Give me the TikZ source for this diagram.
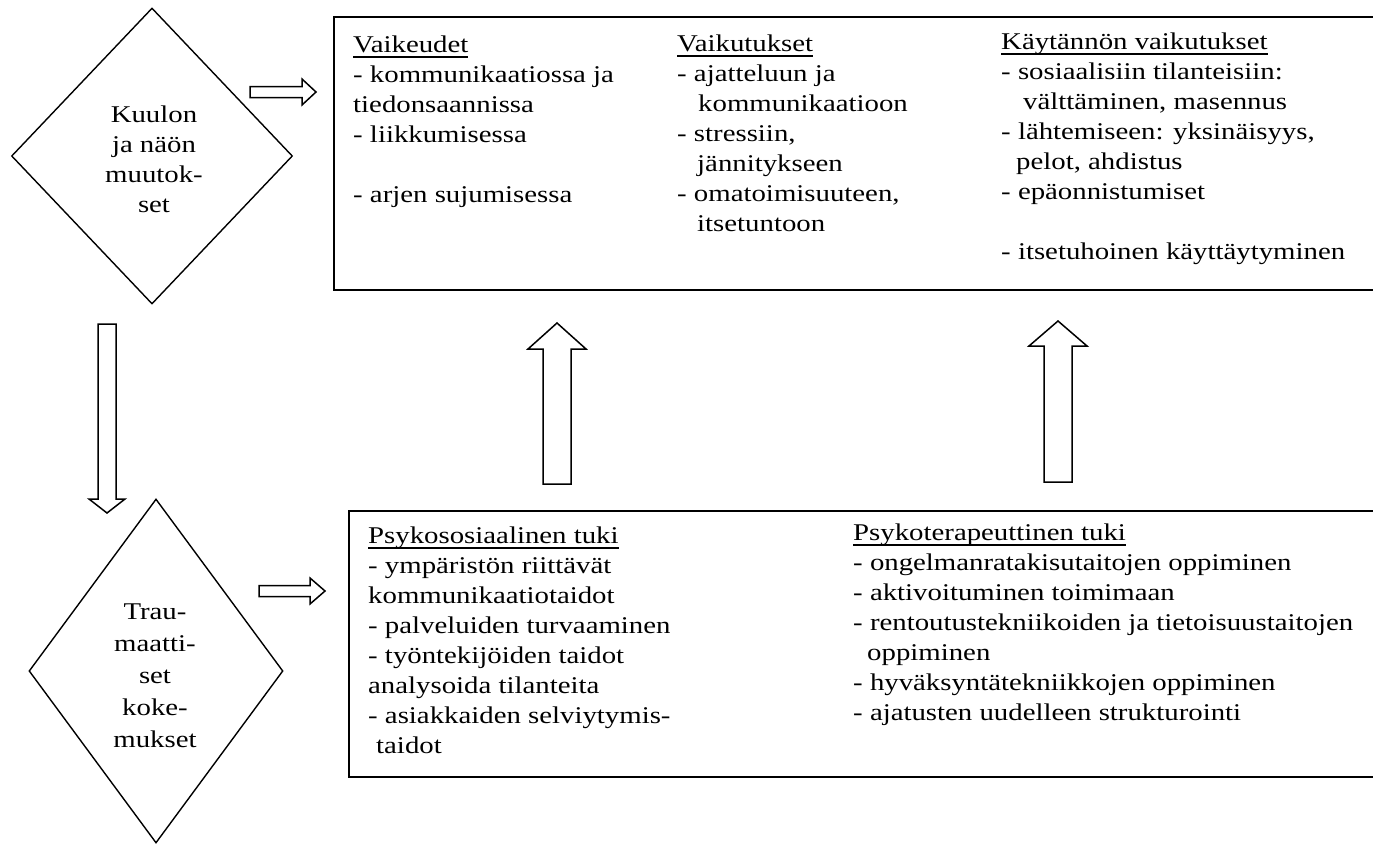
\documentclass[tikz,border=0pt]{standalone}
\usepackage{fontspec}
\newfontfamily\scanserif[FakeStretch=1.2]{Liberation Serif}
\usetikzlibrary{shapes.geometric}
% column heading with a close underline that crosses the descenders
\newcommand\colhead[1]{\setbox0\hbox{#1}\rlap{\rule[-5.5pt]{\wd0}{1.6pt}}\box0}
\begin{document}
\begin{tikzpicture}[x=1pt,y=-1pt,
  every node/.style={inner sep=0pt},
  txt/.style={anchor=north west, align=left, font=\scanserif\fontsize{24}{30}\selectfont},
  dtxt/.style={align=center, font=\scanserif\fontsize{24}{#1}\selectfont},
  choice/.style={diamond, draw, line width=1.4pt},
  frame/.style={draw, line width=1.8pt, anchor=north west},
  blockarrow/.style={draw, line width=1.5pt, line join=miter}]
\useasboundingbox (0,0) rectangle (1373,846);
\clip (0,0) rectangle (1373,846);

% decision diamonds
\node[choice, minimum width=281pt, minimum height=296pt] (hearing) at (152,156) {};
\node[dtxt=30] (hearingtxt) at (154,159) {Kuulon\\ja näön\\muutok-\\set};
\node[choice, minimum width=254pt, minimum height=344pt] (trauma) at (156,671) {};
\node[dtxt=32] (traumatxt) at (155,676) {Trau-\\maatti-\\set\\koke-\\mukset};

% content frames (open to the right)
\node[frame, minimum width=1100pt, minimum height=273pt] (effects) at (333,16) {};
\node[frame, minimum width=1100pt, minimum height=266pt] (support) at (348,510) {};

% top frame columns
\node[txt] (difficulties) at (353,31) {\strut\colhead{Vaikeudet}\\- kommunikaatiossa ja\\tiedonsaannissa\\- liikkumisessa\\[30pt]- arjen sujumisessa};
\node[txt] (impacts) at (677,30) {\strut\colhead{Vaikutukset}\\- ajatteluun ja\\\hspace*{21pt}kommunikaatioon\\- stressiin,\\\hspace*{20pt}jännitykseen\\- omatoimisuuteen,\\\hspace*{20pt}itsetuntoon};
\node[txt] (practical) at (1001,28) {\strut\colhead{Käytännön vaikutukset}\\- sosiaalisiin tilanteisiin:\\\hspace*{22pt}välttäminen, masennus\\- lähtemiseen: yksinäisyys,\\\hspace*{15pt}pelot, ahdistus\\- epäonnistumiset\\[30pt]- itsetuhoinen käyttäytyminen};

% bottom frame columns
\node[txt] (psychosocial) at (368,522) {\strut\colhead{Psykososiaalinen tuki}\\- ympäristön riittävät\\kommunikaatiotaidot\\- palveluiden turvaaminen\\- työntekijöiden taidot\\analysoida tilanteita\\- asiakkaiden selviytymis-\\\hspace*{8pt}taidot};
\node[txt] (therapy) at (853,519) {\strut\colhead{Psykoterapeuttinen tuki}\\- ongelmanratakisutaitojen oppiminen\\- aktivoituminen toimimaan\\- rentoutustekniikoiden ja tietoisuustaitojen\\\hspace*{14pt}oppiminen\\- hyväksyntätekniikkojen oppiminen\\- ajatusten uudelleen strukturointi};

% hollow block arrows
\draw[blockarrow] (250,86.5) -- (302,86.5) -- (302,79) -- (316,92) -- (302,105) -- (302,97.5) -- (250,97.5) -- cycle;
\draw[blockarrow] (259,585.5) -- (310,585.5) -- (310,578) -- (325,591) -- (310,604) -- (310,596.5) -- (259,596.5) -- cycle;
\draw[blockarrow] (98,324) -- (116,324) -- (116,499) -- (125,499) -- (107,513) -- (89,499) -- (98,499) -- cycle;
\draw[blockarrow] (543,484) -- (571,484) -- (571,349) -- (586,349) -- (557,323) -- (528,349) -- (543,349) -- cycle;
\draw[blockarrow] (1044,482) -- (1072,482) -- (1072,346) -- (1087,346) -- (1058,321) -- (1029,346) -- (1044,346) -- cycle;
\end{tikzpicture}
\end{document}
